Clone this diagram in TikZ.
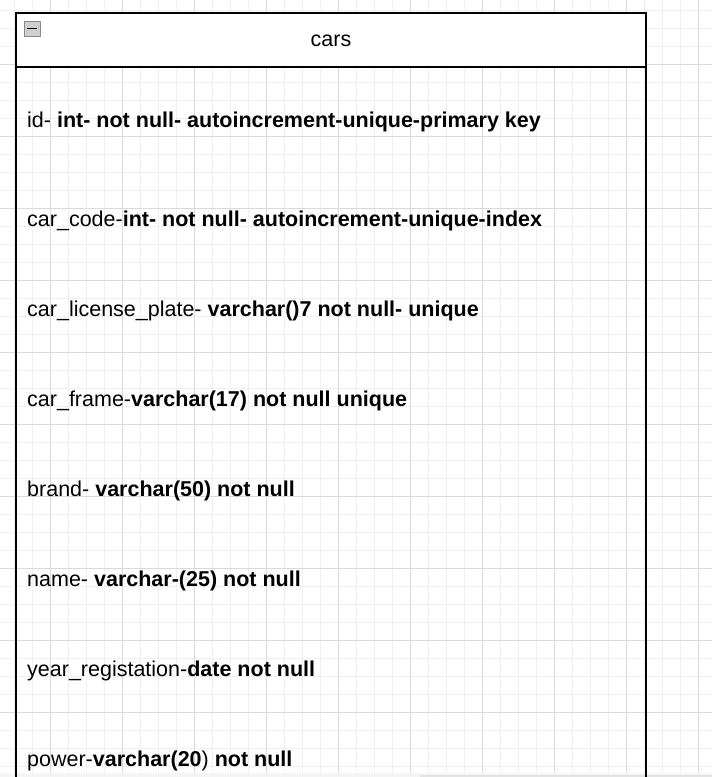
\documentclass[tikz,border=0pt]{standalone}
\usepackage{fontspec}
\setmainfont{Liberation Sans}
\usepackage{tikz}
\usetikzlibrary{positioning}

\definecolor{gridminor}{HTML}{F0F0F0}
\definecolor{gridmajor}{HTML}{D9D9D9}
\definecolor{togglefill}{HTML}{CFCFCF}
\definecolor{toggleline}{HTML}{8A8A8A}

\tikzset{
  field/.style={anchor=base west, inner sep=0pt, font=\fontsize{21.5}{24}\selectfont},
  tabletitle/.style={anchor=base, inner sep=0pt, font=\fontsize{21.5}{24}\selectfont},
  tableline/.style={draw=black, line width=2pt}
}

\begin{document}
\begin{tikzpicture}[x=1pt, y=-1pt]
\useasboundingbox (0,0) rectangle (712,777);
\fill[white] (0,0) rectangle (712,777);

\draw[step=18pt, gridminor, line width=1pt, shift={(14,10)}] (-14,-10) grid (698,767);
\draw[step=72pt, gridmajor, line width=1pt, shift={(50,64)}] (-50,-64) grid (662,713);

\fill[gray!8] (0,773) rectangle (712,777);
\fill[gray!22] (420,775) rectangle (712,777);

% header
\filldraw[fill=white, tableline] (16,13) rectangle (646,67);
\draw[tableline] (16,67) -- (16,778);
\draw[tableline] (646,67) -- (646,778);

\filldraw[fill=togglefill, draw=toggleline, line width=0.8pt] (24,21) rectangle (40,36);
\draw[black, line width=1.6pt] (27,28.5) -- (37,28.5);

\node[tabletitle] (title) at (331,46.5) {cars};

\node[field] (id) at (27,127) {id- \textbf{int- not null- autoincrement-unique-primary key}};
\node[field] (code) at (27,226) {car\_code-\textbf{int- not null- autoincrement-unique-index}};
\node[field] (plate) at (27,316) {car\_license\_plate- \textbf{varchar()7 not null- unique}};
\node[field] (frame) at (27,406) {car\_frame-\textbf{varchar(17) not null unique}};
\node[field] (brand) at (27,496) {brand- \textbf{varchar(50) not null}};
\node[field] (name) at (27,586) {name- \textbf{varchar-(25) not null}};
\node[field] (year) at (27,676) {year\_registation-\textbf{date not null}};
\node[field] (power) at (27,766) {power-\textbf{varchar(20}) \textbf{not null}};

\end{tikzpicture}
\end{document}
